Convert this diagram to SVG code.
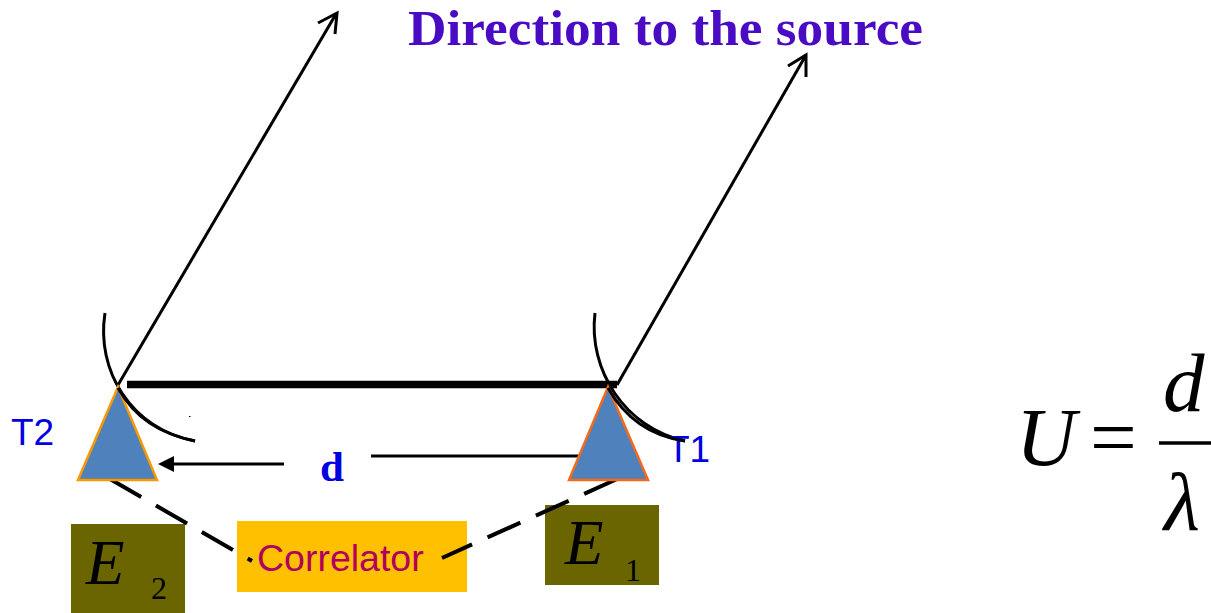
<svg xmlns="http://www.w3.org/2000/svg" width="1211" height="613" viewBox="0 0 1211 613">
<style>
.ln{stroke:#000;fill:none;stroke-width:3}
.arc{stroke:#000;fill:none;stroke-width:3}
.dash{stroke:#000;fill:none;stroke-width:4;stroke-dasharray:36 17}
.ant{fill:#4f81bd;stroke-width:2.5}
.lab{font-family:"Liberation Sans",Arial,sans-serif;fill:#0000e0;font-size:37px}
.ser{font-family:"Liberation Serif","Times New Roman",serif;fill:#000}
.it{font-style:italic}
.eb{fill:#6b6500}
</style>
<rect width="1211" height="613" fill="#fff"/>
<g id="e2"><rect class="eb" x="71" y="524" width="114" height="89"/><text class="ser it" x="86" y="584" font-size="63">E</text><text class="ser" x="151" y="599" font-size="32">2</text></g>
<g id="e1"><rect class="eb" x="545" y="505" width="114" height="80"/><text class="ser it" x="565" y="564" font-size="63">E</text><text class="ser" x="625" y="581" font-size="32">1</text></g>
<g id="correlator"><rect x="237" y="521" width="230" height="71" fill="#ffc000"/><text x="257" y="571" font-family="'Liberation Sans',Arial,sans-serif" font-size="37.500" fill="#b0005f">Correlator</text></g>
<g id="connectors">
<path class="ln" d="M118 385L336 14"/><path class="ln" d="M318 23L337 13L335 34" stroke-linejoin="miter"/>
<path class="ln" d="M617 385L806 55"/><path class="ln" d="M788 66L806 55L806 77"/>
<path d="M127 384.500H617" stroke="#000" stroke-width="7.500" fill="none"/>
<path class="arc" d="M105 313C96 370 130 428 195 441"/>
<path class="arc" d="M595 313C588 370 625 428 685 441"/>
<path class="ln" d="M284 464H170" stroke-width="2.500"/><path d="M158 464L174 456V472Z" fill="#000"/>
<path class="ln" d="M371 456H580"/>
<path class="dash" d="M110 479L252 561"/>
<path class="dash" d="M617 479L442 558"/>
<path d="M189 416.500h1.500" stroke="#000" fill="none"/>
</g>
<g id="t2"><path class="ant" d="M118 387L157 480H78Z" stroke="#f79a00"/><text class="lab" x="11" y="445">T2</text></g>
<g id="t1"><path class="ant" d="M608 387L648 480H569Z" stroke="#f26b1d"/><text class="lab" x="667" y="462">T1</text></g>
<path class="arc" d="M608 388C625 418 650 436 685 441" id="t1-arc-over"/>
<path class="arc" d="M118 388C135 418 160 434 195 441" id="t2-arc-over"/>
<g id="d"><text class="ser" x="320" y="481" font-size="43" font-weight="bold" style="fill:#0000e0">d</text></g>
<g id="title"><text class="ser" x="408" y="45" font-size="50" font-weight="bold" style="fill:#4a0bc4" textLength="515" lengthAdjust="spacingAndGlyphs">Direction to the source</text></g>
<g id="formula">
<text class="ser it" x="1016" y="465" font-size="83">U</text>
<text class="ser" x="1090" y="465" font-size="83">=</text>
<text class="ser it" x="1163" y="411" font-size="83">d</text>
<path d="M1159 443H1211" stroke="#000" stroke-width="3.500"/>
<text class="ser it" x="1164" y="530" font-size="83" font-family="'Liberation Serif',serif">λ</text>
</g>
</svg>
